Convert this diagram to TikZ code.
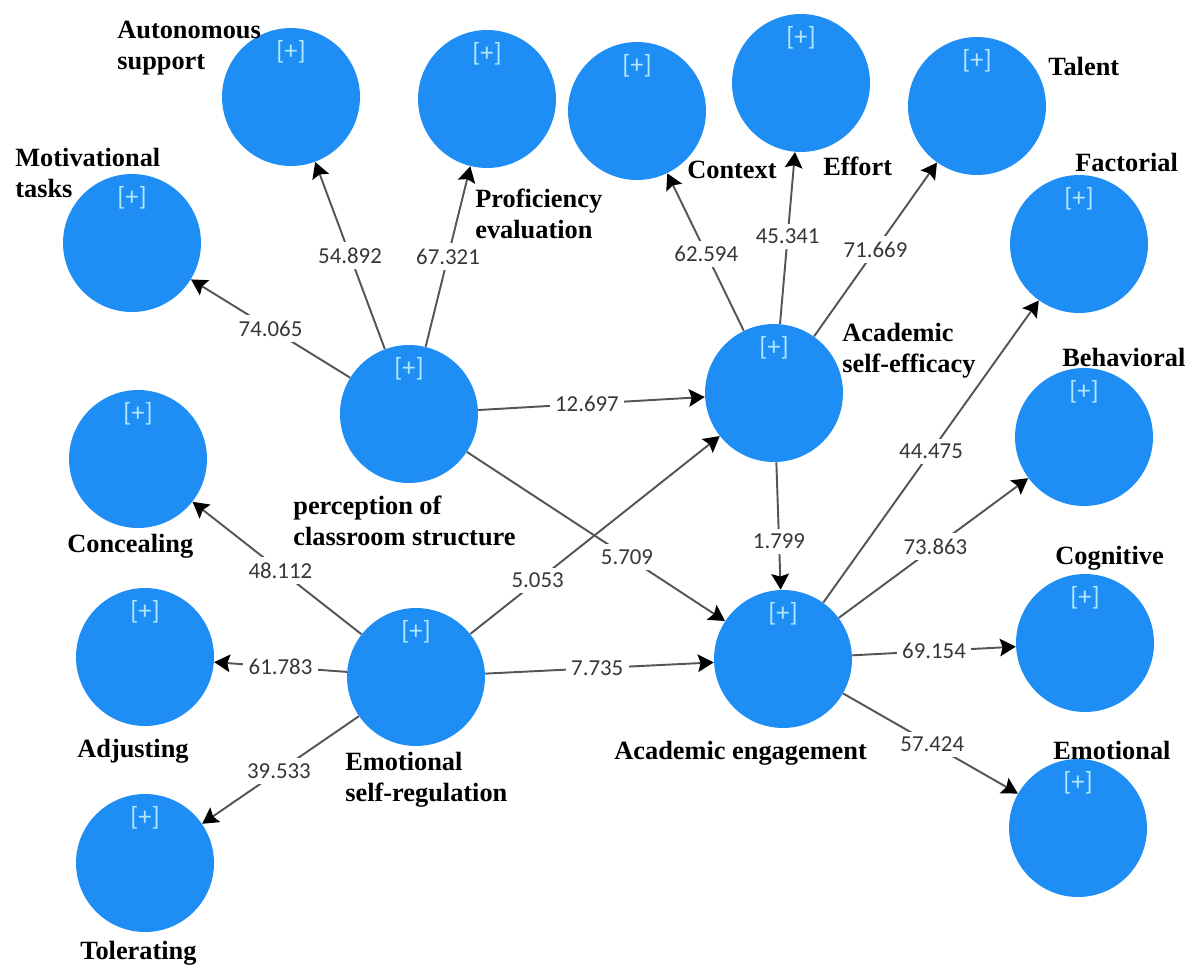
\documentclass[tikz,border=0pt]{standalone}
\usepackage{fontspec}
\setmainfont{Liberation Serif}
\newfontfamily\numfont{Carlito}
\usetikzlibrary{arrows.meta}
\definecolor{plsblue}{RGB}{30,142,245}
\definecolor{plustext}{RGB}{175,232,255}
\definecolor{edgegray}{RGB}{85,85,85}
\definecolor{numgray}{RGB}{55,55,55}

\begin{document}
\begin{tikzpicture}[x=0.02cm, y=-0.02cm,
  plusmark/.style={anchor=north, inner sep=0, yshift=-0.24cm, text=plustext, font=\numfont\fontsize{15}{15}\selectfont},
  lv/.style={circle, fill=plsblue, minimum size=2.76cm, inner sep=0, label={[plusmark]north:{[+]}}},
  lbl/.style={anchor=west, inner sep=0, align=left, font=\bfseries\fontsize{15}{17.5}\selectfont},
  link/.style={draw=edgegray, line width=1.1pt, -{Stealth[length=9pt,width=10pt,inset=1.5pt,color=black]}},
  coef/.style={fill=white, inner sep=3pt, text=numgray, font=\numfont\fontsize{13}{13}\selectfont}]
\useasboundingbox (0,0) rectangle (1192,967);

\foreach \n/\x/\y in {auton/291/97, prof/487/99, ctx/637/111, eff/801/83, tal/977/106,
  motiv/132/243, fact/1079/244, perc/409/414, se/774/393, beh/1084/437, conc/138/459,
  esr/416/677, eng/783/659, cog/1085/643, adj/145/657, tol/145/863, emo/1078/828}
  \node[lv] (\n) at (\x,\y) {};

\foreach \n/\x/\y/\t in {auton/117/48/{Autonomous\\support}, prof/475/214/{Proficiency\\evaluation},
  motiv/15/173/{Motivational\\tasks}, ctx/687/170/Context, eff/823/166/Effort, tal/1048/66/Talent,
  fact/1075/162/Factorial, se/842/351/{Academic\\self-efficacy}, beh/1062/357/Behavioral,
  perc/293/521/{perception of\\classroom structure}, conc/67/546/Concealing, cog/1055/558/Cognitive,
  adj/77/751/Adjusting, esr/345/780/{Emotional\\self-regulation}, eng/614/753/{Academic engagement},
  emo/1053/750/Emotional, tol/80/953/Tolerating}
  \node[lbl] (\n-t) at (\x,\y) {\t};

\foreach \a/\b/\v/\p in {perc/motiv/74.065/.5, perc/auton/54.892/.5, perc/prof/67.321/.5,
  perc/se/12.697/.48, perc/eng/5.709/.62, esr/conc/48.112/.48, esr/se/5.053/.27,
  esr/adj/61.783/.5, esr/eng/7.735/.49, esr/tol/39.533/.51, se/ctx/62.594/.49,
  se/eff/45.341/.51, se/tal/71.669/.5, se/eng/1.799/.62, eng/fact/44.475/.5,
  eng/beh/73.863/.51, eng/cog/69.154/.5, eng/emo/57.424/.51}
  \draw[link] (\a) -- node[coef, pos=\p] (v\a\b) {\v} (\b);
\end{tikzpicture}
\end{document}
